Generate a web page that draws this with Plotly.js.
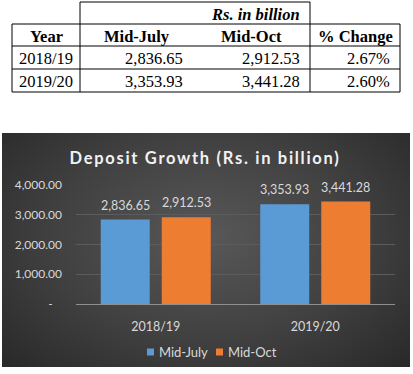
<!DOCTYPE html>
<html><head><meta charset="utf-8">
<script src="https://cdn.plot.ly/plotly-3.0.1.min.js"></script>
<style>
html,body{margin:0;padding:0;background:#fff;}
#wrap{position:relative;width:413px;height:374px;overflow:hidden;}
#bg{position:absolute;left:2px;top:133px;width:408px;height:234px;
  background:radial-gradient(ellipse 70% 80% at 50% 45%, #585858 0%, #404040 55%, #282828 100%);}
#chart{position:absolute;left:0;top:0;width:413px;height:374px;}
#chart .gtitle{letter-spacing:1.7px;}
</style></head><body>
<div id="wrap"><div id="bg"></div><div id="chart"></div></div>
<script>
// ---- data ----
const years = ['2018/19', '2019/20'];
const seriesNames = ['Mid-July', 'Mid-Oct'];
const midJuly = [2836.65, 3353.93];
const midOct = [2912.53, 3441.28];
const pctChange = [2.67, 2.60];
const yTickVals = [0, 1000, 2000, 3000, 4000];
const yTickText = ['-\u00a0\u00a0\u00a0', '1,000.00', '2,000.00', '3,000.00', '4,000.00'];
const tableUnit = 'Rs. in billion';
const tableHeader = ['Year', 'Mid-July', 'Mid-Oct', '% Change'];
const chartTitle = 'Deposit Growth (Rs. in billion)';

// ---- style ----
const colors = ['#5b9bd5', '#ed7d31'];
const sans = 'Lato, "Open Sans", sans-serif';
const serif = '"Liberation Serif", "Times New Roman", serif';
const labelColor = '#d9d9d9';
const W = 413, H = 374;
const M = {l: 76, r: 18, t: 185, b: 70};
const bargap = 0.235;
const bargroupgap = 0.197;

const fmt = new Intl.NumberFormat('en-US', {minimumFractionDigits: 2, maximumFractionDigits: 2});
const seriesVals = [midJuly, midOct];

// pixel -> paper helpers for table/legend decoration
const X = p => (p - M.l) / (W - M.l - M.r);
const Y = p => (H - M.b - p) / (H - M.t - M.b);

const traces = seriesVals.map((vals, s) => ({
  type: 'bar', name: seriesNames[s], x: years, y: vals,
  marker: {color: colors[s], line: {width: 0}},
  hoverinfo: 'skip', showlegend: false
}));

const annotations = [];
const shapes = [];

// data labels above bars
seriesVals.forEach((vals, s) => {
  vals.forEach((v, i) => {
    annotations.push({
      xref: 'x', yref: 'y', x: i + (s === 0 ? -1 : 1) * (1 - bargap) / 4, y: v,
      yanchor: 'bottom', yshift: 5, showarrow: false,
      text: fmt.format(v), font: {family: sans, size: 12.5, color: labelColor}
    });
  });
});

// custom legend (small squares like the original)
const legendX = [147, 216];
seriesNames.forEach((name, s) => {
  shapes.push({type: 'rect', xref: 'paper', yref: 'paper',
    x0: X(legendX[s]), x1: X(legendX[s] + 7), y0: Y(348.5), y1: Y(355.5),
    fillcolor: colors[s], line: {width: 0}});
  annotations.push({xref: 'paper', yref: 'paper', x: X(legendX[s] + 10), y: Y(352),
    xanchor: 'left', yanchor: 'middle', showarrow: false, text: name,
    font: {family: sans, size: 13, color: labelColor}});
});

// ---- table (drawn in paper coords) ----
const colEdges = [12, 80, 193, 310, 400];
const rowEdges = [2, 24, 46, 69, 92];
const line = (x0, y0, x1, y1) => shapes.push({type: 'line', xref: 'paper', yref: 'paper',
  x0: X(x0), x1: X(x1), y0: Y(y0), y1: Y(y1), line: {color: '#000', width: 1}});
line(colEdges[1], rowEdges[0], colEdges[3], rowEdges[0]);
for (let r = 1; r < rowEdges.length; r++) line(colEdges[0], rowEdges[r], colEdges[4], rowEdges[r]);
line(colEdges[0], rowEdges[1], colEdges[0], rowEdges[4]);
line(colEdges[1], rowEdges[0], colEdges[1], rowEdges[4]);
line(colEdges[3], rowEdges[0], colEdges[3], rowEdges[4]);
line(colEdges[4], rowEdges[1], colEdges[4], rowEdges[4]);

const cell = (text, x, y, anchor) => annotations.push({
  xref: 'paper', yref: 'paper', x: X(x), y: Y(y), xanchor: anchor, yanchor: 'middle',
  showarrow: false, text: text, font: {family: serif, size: 16.5, color: '#000'}
});

cell('<b><i>' + tableUnit + '</i></b>', colEdges[3] - 8, (rowEdges[0] + rowEdges[1]) / 2 + 1, 'right');
tableHeader.forEach((h, c) => {
  cell('<b>' + h + '</b>', (colEdges[c] + colEdges[c + 1]) / 2, (rowEdges[1] + rowEdges[2]) / 2 + 1, 'center');
});
years.forEach((yr, i) => {
  const yc = (rowEdges[2 + i] + rowEdges[3 + i]) / 2 + 1;
  cell(yr, (colEdges[0] + colEdges[1]) / 2, yc, 'center');
  cell(fmt.format(midJuly[i]), colEdges[2] - 8, yc, 'right');
  cell(fmt.format(midOct[i]), colEdges[3] - 8, yc, 'right');
  cell(pctChange[i].toFixed(2) + '%', colEdges[4] - 8, yc, 'right');
});

const layout = {
  width: W, height: H,
  margin: {l: M.l, r: M.r, t: M.t, b: M.b, pad: 0},
  paper_bgcolor: 'rgba(0,0,0,0)', plot_bgcolor: 'rgba(0,0,0,0)',
  barmode: 'group', bargap: bargap, bargroupgap: bargroupgap,
  title: {text: '<b>' + chartTitle + '</b>', x: 205 / W, xanchor: 'center',
    y: 1 - 158 / H, yanchor: 'middle', font: {family: sans, size: 16.5, color: '#f2f2f2'}},
  xaxis: {showgrid: false, showline: true, linecolor: '#8f8f8f', linewidth: 1, ticks: '',
    tickfont: {family: sans, size: 12.5, color: labelColor}, ticklabelstandoff: 11, fixedrange: true},
  yaxis: {range: [0, 4000], tickvals: yTickVals, ticktext: yTickText, showgrid: true,
    gridcolor: '#5c5c5c', gridwidth: 1, zeroline: false, showline: false, ticks: '',
    tickfont: {family: sans, size: 12, color: labelColor}, ticklabelstandoff: 13, fixedrange: true},
  showlegend: false,
  annotations: annotations, shapes: shapes
};

Plotly.newPlot('chart', traces, layout, {displayModeBar: false, staticPlot: true});
</script>
</body></html>
